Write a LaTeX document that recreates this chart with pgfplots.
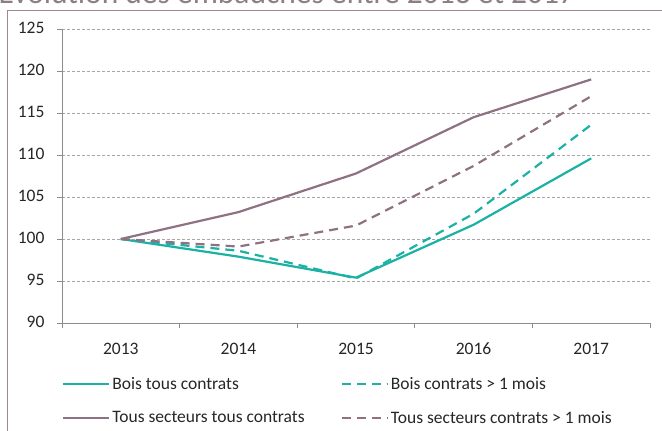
\documentclass[border=0pt]{standalone}
\usepackage{fontspec}
\setmainfont{Carlito}
\usepackage{pgfplots}
\pgfplotsset{compat=1.18}
\definecolor{teal}{HTML}{1BB1A5}
\definecolor{mauve}{HTML}{8E7282}
\definecolor{framecol}{HTML}{A08593}
\definecolor{gridgray}{HTML}{A6A6A6}
\definecolor{axisgray}{HTML}{8C8C8C}
\definecolor{titlegray}{HTML}{8C7E86}
\definecolor{ink}{HTML}{262626}

\begin{document}
\begin{tikzpicture}[x=1bp,y=1bp]
% frame and title (title partly cut by the page edge, as in the source)
\draw[framecol, line width=1.3bp] (7.5,-30) |- (720,419.5);
\node[anchor=base west, inner sep=0pt, text=titlegray,
  font=\fontsize{31.5bp}{34bp}\selectfont] at (-1.5,426) {Evolution des embauches entre 2013 et 2017};

\begin{axis}[
  at={(62bp,107bp)}, anchor=south west,
  scale only axis,
  width=588bp, height=294bp,
  xmin=0.5, xmax=5.5,
  ymin=90, ymax=125,
  xtick={0.5,1.5,2.5,3.5,4.5,5.5},
  xticklabels={2013,2014,2015,2016,2017},
  x tick label as interval,
  ytick={90,95,...,125},
  axis x line*=bottom,
  axis y line*=left,
  axis line style={draw=axisgray, line width=1bp},
  tick style={draw=axisgray, line width=1bp},
  tick align=outside,
  major tick length=5bp,
  ymajorgrids,
  major grid style={draw=gridgray, line width=0.9bp, dash pattern=on 3bp off 2bp},
  /pgf/number format/assume math mode=true,
  typeset ticklabels with strut,
  tick label style={font=\fontsize{17.5bp}{20bp}\selectfont, text=ink},
  yticklabel style={xshift=-9bp},
  xticklabel style={yshift=-9bp},
  legend columns=2,
  legend cell align=left,
  legend style={draw=none, fill=none, at={(0,-0.178)}, anchor=north west,
    font=\fontsize{17.5bp}{20bp}\selectfont, text=ink,
    row sep=16bp, inner sep=0pt,
    /tikz/every even column/.append style={column sep=34bp}},
  legend image code/.code={\draw[#1] (0bp,0bp) -- (46bp,0bp);},
]
\addplot[teal, line width=2.2bp] coordinates {(1,100) (2,97.9) (3,95.4) (4,101.7) (5,109.6)};
\addplot[teal, line width=2.2bp, dash pattern=on 9bp off 6bp] coordinates {(1,100) (2,98.6) (3,95.3) (4,103.0) (5,113.6)};
\addplot[mauve, line width=2.2bp] coordinates {(1,100) (2,103.2) (3,107.8) (4,114.5) (5,119.0)};
\addplot[mauve, line width=2.2bp, dash pattern=on 9bp off 6bp] coordinates {(1,100) (2,99.1) (3,101.6) (4,108.7) (5,117.0)};
\legend{Bois tous contrats, Bois contrats > 1 mois, Tous secteurs tous contrats, Tous secteurs contrats > 1 mois}
\end{axis}
\pgfresetboundingbox
\path[use as bounding box] (0,0) rectangle (662,430);
\end{tikzpicture}
\end{document}
